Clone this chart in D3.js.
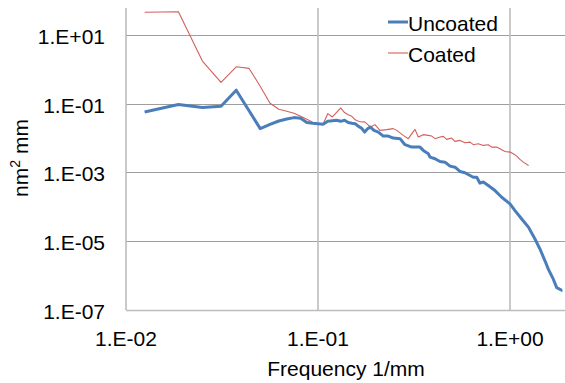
<!DOCTYPE html>
<html>
<head>
<meta charset="utf-8">
<script src="https://cdn.jsdelivr.net/npm/d3@7"></script>
<style>
  body { margin: 0; background: #fff; }
  svg { display: block; font-family: "Liberation Sans", Arial, sans-serif; }
</style>
</head>
<body>
<svg id="chart" width="565" height="383"></svg>
<script>
// spectra (frequency in 1/mm, psd in nm^2 mm)
let uncoatedFreq = [0.0125, 0.01875, 0.025, 0.03125, 0.0375, 0.04375, 0.05, 0.05625, 0.0625, 0.06875,
  0.075, 0.08125, 0.0875, 0.09375, 0.1, 0.10625, 0.1125, 0.11875, 0.125, 0.13125,
  0.1375, 0.14375, 0.15, 0.15625, 0.1625, 0.16875, 0.175, 0.18125, 0.1875, 0.1957,
  0.2061, 0.2188, 0.2323, 0.2468, 0.2674, 0.2838, 0.3076, 0.32, 0.3398, 0.3535,
  0.3754, 0.3831, 0.4068, 0.4318, 0.4586, 0.487, 0.517, 0.549, 0.5828, 0.619,
  0.644, 0.671, 0.6978, 0.726, 0.7709, 0.8354, 0.9054, 1.0, 1.062, 1.151,
  1.25, 1.349, 1.433, 1.521, 1.583, 1.681, 1.751, 1.859, 1.875]
let uncoatedPsd = [0.0577, 0.0948, 0.0774, 0.0845, 0.248, 0.0625, 0.0189, 0.0252, 0.0315, 0.036,
  0.0395, 0.0377, 0.0283, 0.027, 0.0261, 0.0252, 0.0308, 0.0319, 0.033, 0.0308,
  0.033, 0.0283, 0.027, 0.0261, 0.022, 0.0193, 0.015, 0.0186, 0.021, 0.0168,
  0.015, 0.01148, 0.01148, 0.01003, 0.00964, 0.00644, 0.00548, 0.00548, 0.00548, 0.00439,
  0.00352, 0.0028, 0.00251, 0.00209, 0.002, 0.00153, 0.00143, 0.00107, 0.00098, 0.000817,
  0.000729, 0.000729, 0.000488, 0.000528, 0.000417, 0.000298, 0.00019, 0.000122, 0.0000778, 0.0000445,
  0.0000253, 0.0000116, 0.00000592, 0.0000027, 0.00000154, 7.87e-7, 4.48e-7, 3.76e-7, 3.8e-7]

let coatedFreq = [0.0125, 0.01875, 0.025, 0.03125, 0.0375, 0.04375, 0.05, 0.05625, 0.0625, 0.06875,
  0.075, 0.08125, 0.0875, 0.09375, 0.1, 0.10625, 0.1125, 0.11875, 0.125, 0.13125,
  0.1375, 0.14375, 0.15, 0.15625, 0.1625, 0.16875, 0.175, 0.18125, 0.1875, 0.198,
  0.2103, 0.2279, 0.2468, 0.257, 0.2781, 0.2953, 0.32, 0.333, 0.3535, 0.3754,
  0.391, 0.4068, 0.4318, 0.4493, 0.468, 0.497, 0.517, 0.549, 0.5828, 0.619,
  0.644, 0.6839, 0.726, 0.7709, 0.8029, 0.8525, 0.887, 0.9419, 1.0, 1.04,
  1.084, 1.127, 1.173, 1.25]
let coatedPsd = [46.0, 47.6, 1.74, 0.416, 1.187, 1.066, 0.324, 0.1035, 0.069, 0.0604,
  0.0528, 0.0432, 0.0353, 0.0288, 0.0252, 0.0252, 0.0518, 0.0412, 0.0565, 0.0754,
  0.0553, 0.0478, 0.0432, 0.0341, 0.0308, 0.0294, 0.0298, 0.0252, 0.021, 0.0247,
  0.0168, 0.01766, 0.0189, 0.0168, 0.012, 0.00964, 0.018, 0.01074, 0.01262, 0.012,
  0.01148, 0.00964, 0.01074, 0.01125, 0.0092, 0.01003, 0.00804, 0.00859, 0.00736, 0.00767,
  0.00644, 0.00689, 0.00614, 0.00644, 0.00548, 0.00548, 0.00492, 0.0041, 0.00392, 0.00352,
  0.00299, 0.0024, 0.002, 0.0016]

let xTicks = [0.01, 0.1, 1]
let xTickLabels = ['1.E-02', '1.E-01', '1.E+00']
let yTicks = [1e1, 1e-1, 1e-3, 1e-5, 1e-7]
let yTickLabels = ['1.E+01', '1.E-01', '1.E-03', '1.E-05', '1.E-07']

let seriesNames = ['Uncoated', 'Coated']
let seriesColors = ['#4a7ebb', '#d2605c']

let svg = d3.select('#chart')

let plotLeft = 126, plotRight = 565, plotTop = 8, plotBottom = 310

// axis ends sit a bit past the last labelled decades
let x = d3.scaleLog()
  .domain([0.01, 1.934])
  .range([plotLeft, plotRight])
let y = d3.scaleLog()
  .domain([1e-7, 61])
  .range([plotBottom, plotTop])

// gridlines
svg.selectAll('.hgrid')
  .data(yTicks.slice(0, 4))
  .enter()
  .append('line')
  .attr('x1', plotLeft).attr('x2', plotRight)
  .attr('y1', d => Math.round(y(d)) + 0.5)
  .attr('y2', d => Math.round(y(d)) + 0.5)
  .attr('stroke', '#9e9e9e')
  .attr('stroke-width', 1.2)

svg.selectAll('.vgrid')
  .data(xTicks.slice(1))
  .enter()
  .append('line')
  .attr('x1', d => x(d)).attr('x2', d => x(d))
  .attr('y1', plotTop).attr('y2', plotBottom)
  .attr('stroke', '#bdbdbd')
  .attr('stroke-width', 1.6)

// axes lines
svg.append('line')
  .attr('x1', plotLeft).attr('x2', plotLeft).attr('y1', plotTop).attr('y2', plotBottom)
  .attr('stroke', '#bdbdbd').attr('stroke-width', 1.6)
svg.append('line')
  .attr('x1', plotLeft).attr('x2', plotRight).attr('y1', plotBottom + 0.5).attr('y2', plotBottom + 0.5)
  .attr('stroke', '#bdbdbd').attr('stroke-width', 1.6)

// tick labels
svg.selectAll('.ylab')
  .data(yTicks)
  .enter()
  .append('text')
  .attr('x', plotLeft - 21)
  .attr('y', d => y(d) + 1.5)
  .attr('dy', '0.35em')
  .attr('text-anchor', 'end')
  .style('font-size', '21px')
  .text((d, i) => yTickLabels[i])

svg.selectAll('.xlab')
  .data(xTicks)
  .enter()
  .append('text')
  .attr('x', d => x(d))
  .attr('y', 346)
  .attr('text-anchor', 'middle')
  .style('font-size', '21px')
  .text((d, i) => xTickLabels[i])

// axis titles
svg.append('text')
  .attr('x', 346).attr('y', 376)
  .attr('text-anchor', 'middle')
  .style('font-size', '21px')
  .text('Frequency 1/mm')

let ylab = svg.append('text')
  .attr('transform', 'translate(28,158) rotate(-90)')
  .attr('text-anchor', 'middle')
  .style('font-size', '21px')
ylab.append('tspan').text('nm')
ylab.append('tspan').attr('dy', -8).style('font-size', '14px').text('2')
ylab.append('tspan').attr('dy', 8).text(' mm')

// series
let line = d3.line()
  .x(d => x(d[0]))
  .y(d => y(d[1]))

let uncoated = uncoatedFreq.map((f, i) => [f, uncoatedPsd[i]])
let coated = coatedFreq.map((f, i) => [f, coatedPsd[i]])

svg.append('path')
  .datum(coated)
  .attr('d', line)
  .attr('fill', 'none')
  .attr('stroke', seriesColors[1])
  .attr('stroke-width', 1.1)
  .attr('stroke-linejoin', 'round')

svg.append('path')
  .datum(uncoated)
  .attr('d', line)
  .attr('fill', 'none')
  .attr('stroke', seriesColors[0])
  .attr('stroke-width', 3)
  .attr('stroke-linejoin', 'round')

// legend
let legend = svg.selectAll('.legend')
  .data(seriesNames)
  .enter()
  .append('g')
  .attr('transform', (d, i) => 'translate(388,' + (22 + i * 31) + ')')

legend.append('line')
  .attr('x1', 0).attr('x2', 20)
  .attr('stroke', (d, i) => seriesColors[i])
  .attr('stroke-width', (d, i) => i == 0 ? 3 : 1.1)

legend.append('text')
  .attr('x', 20)
  .attr('y', 9)
  .style('font-size', '21px')
  .text(d => d)
</script>
</body>
</html>
